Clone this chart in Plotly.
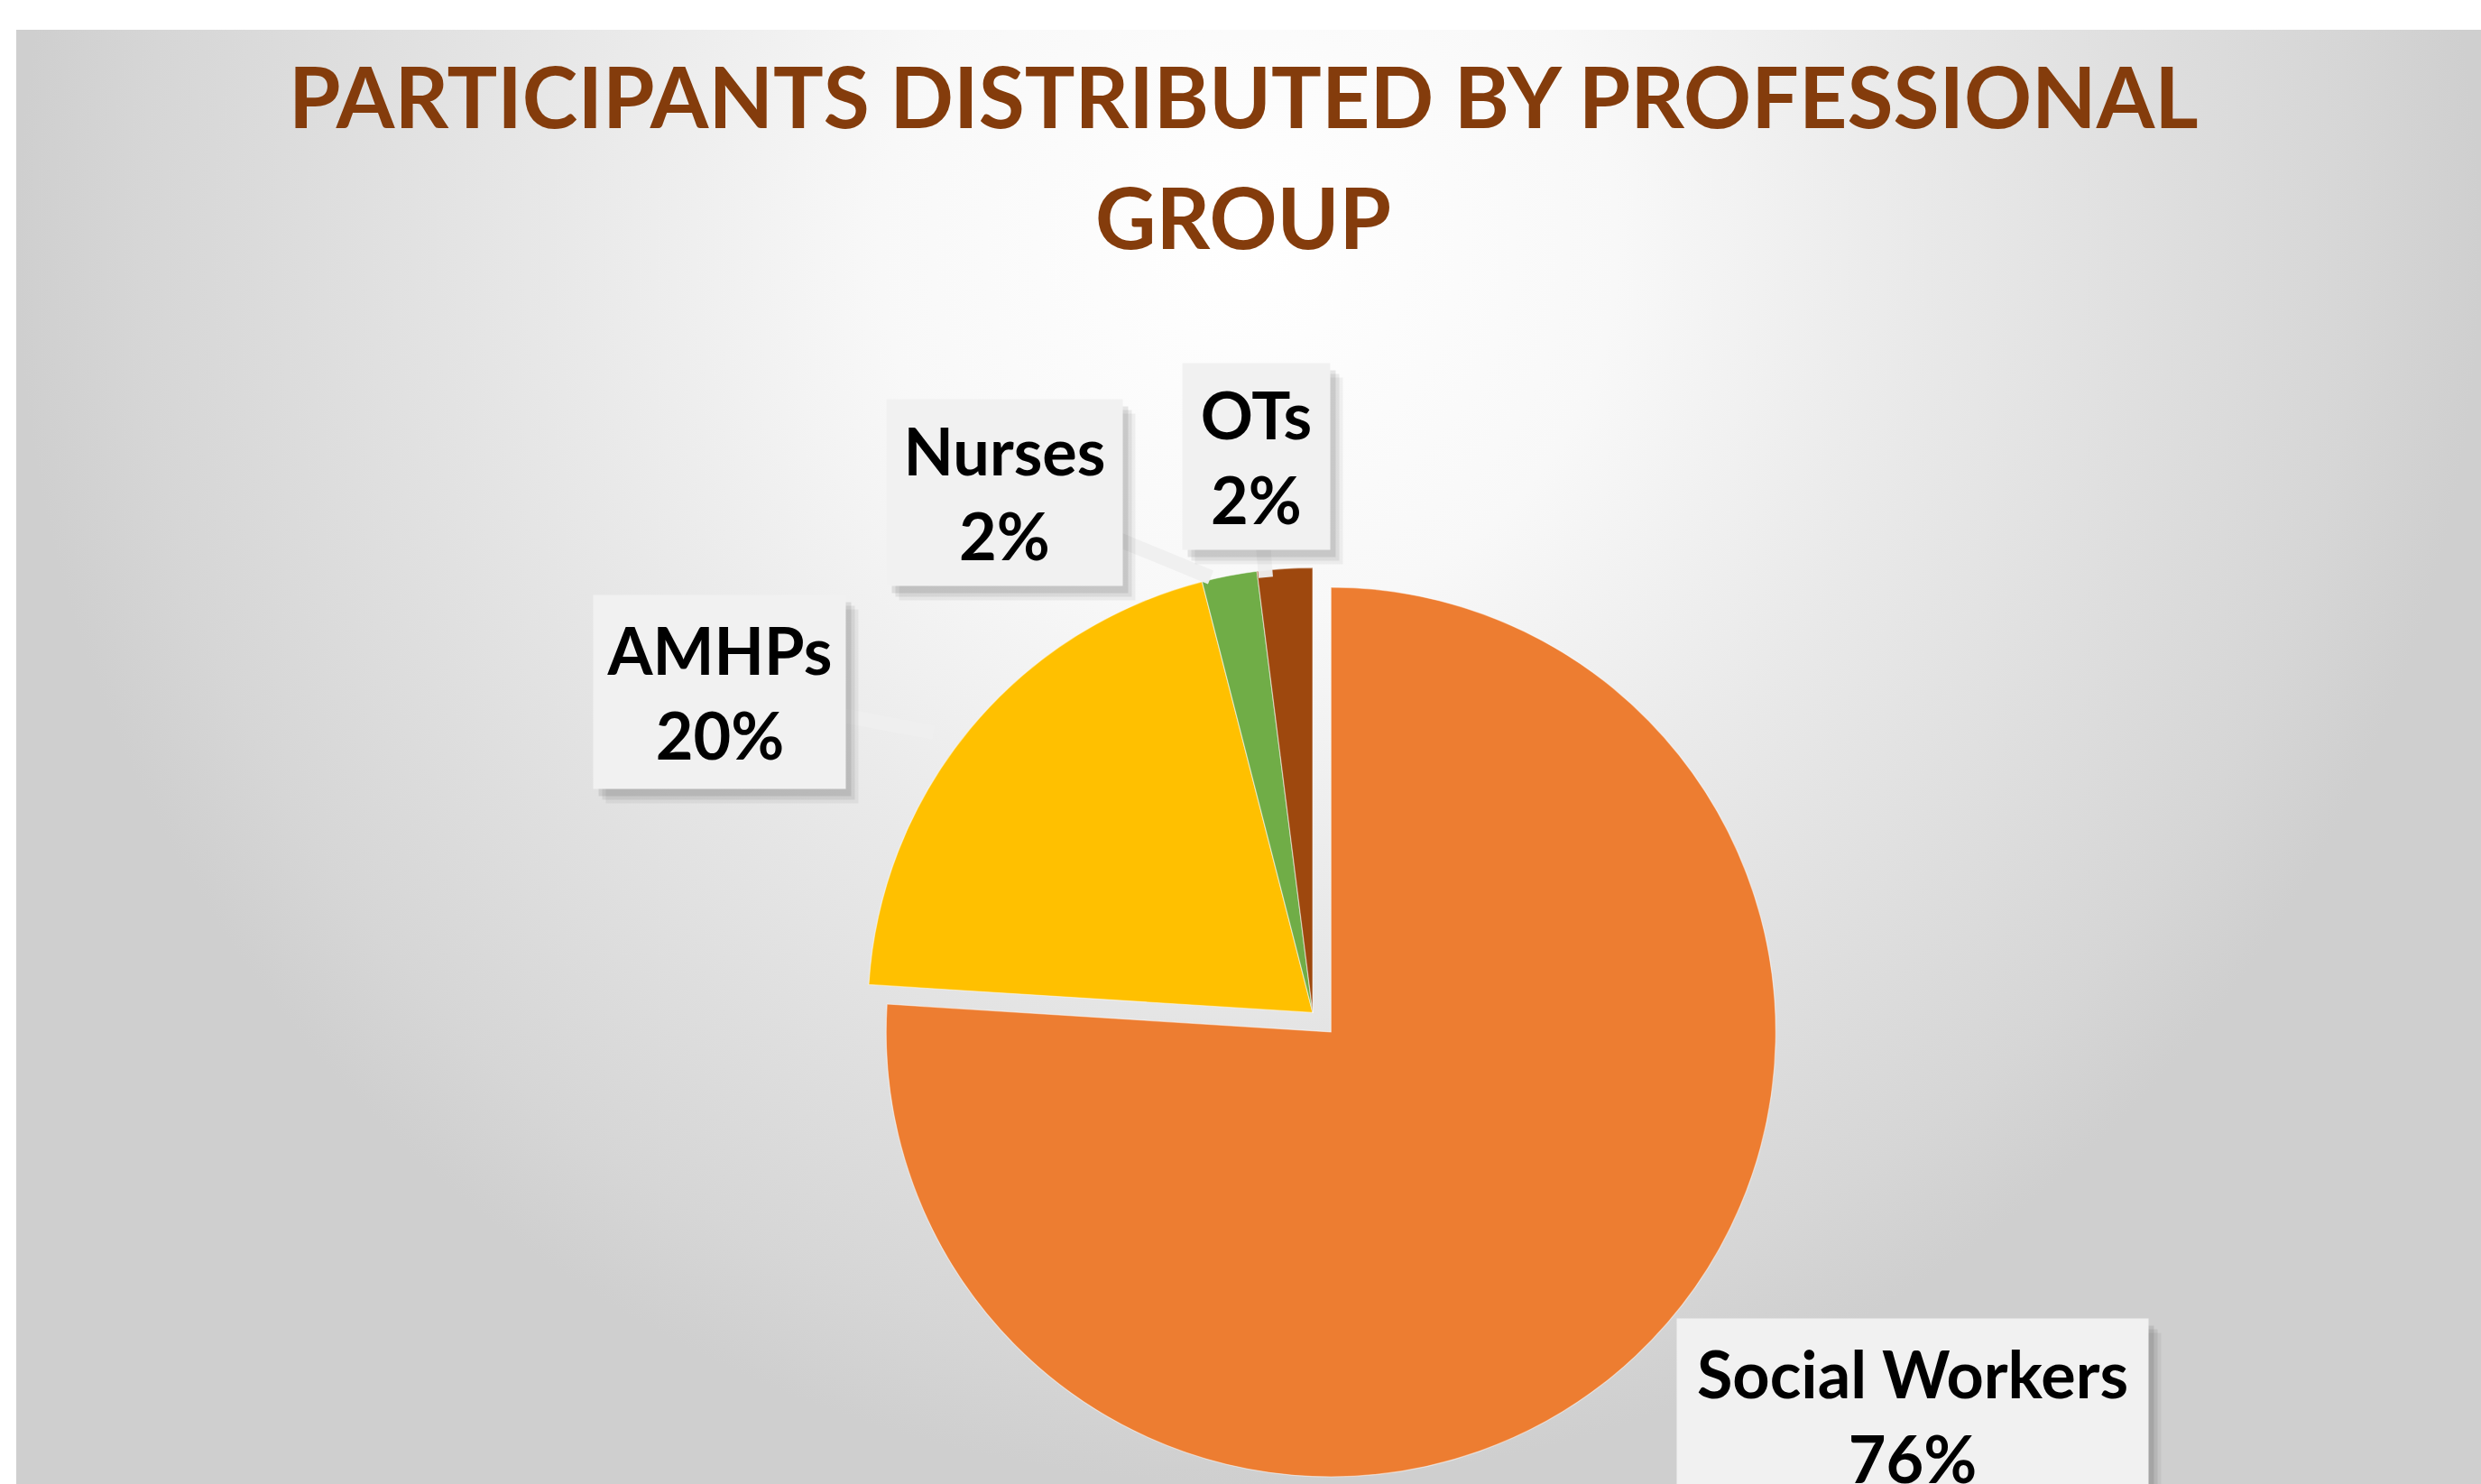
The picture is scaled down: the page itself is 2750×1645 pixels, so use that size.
import plotly.graph_objects as go

# ---------------- data ----------------
categories = ["Social Workers", "AMHPs", "Nurses", "OTs"]
shares = [76, 20, 2, 2]
slice_colors = ["#ED7D31", "#FFC000", "#70AD47", "#9E480E"]
title_lines = ["PARTICIPANTS DISTRIBUTED BY PROFESSIONAL", "GROUP"]

# ---------------- layout helpers (pixel-space positions) ----------------
W, H = 2750, 1645
PANEL_L, PANEL_T = 18, 33          # white strip left / top of the grey panel
# label box centre (x, y), box size (w, h), pointer tip (x, y) or None
label_layout = {
    "Social Workers": dict(c=(2120, 1569), s=(522, 214), tip=None),
    "AMHPs": dict(c=(797, 767), s=(279, 214), tip=(1035, 812)),
    "Nurses": dict(c=(1113, 546), s=(261, 206), tip=(1342, 640)),
    "OTs": dict(c=(1392, 506), s=(163, 206), tip=(1403, 640)),
}

fig = go.Figure()

# gradient background panel
fig.add_trace(go.Scatter(
    x=[PANEL_L, W, W, PANEL_L], y=[-1100, -1100, H, H],
    fill="toself", mode="lines", line=dict(width=0),
    fillgradient=dict(type="radial", colorscale=[
        [0.0, "#ffffff"], [0.3, "#f8f8f8"], [0.55, "#e9e9e9"],
        [0.75, "#dedede"], [0.9, "#d6d6d6"], [1.0, "#cfcfcf"]]),
    hoverinfo="skip", showlegend=False))

# the pie
fig.add_trace(go.Pie(
    labels=categories, values=shares, sort=False,
    direction="clockwise", rotation=0,
    pull=[0.06, 0, 0, 0],
    marker=dict(colors=slice_colors, line=dict(color="rgba(255,255,255,0.5)", width=1.2)),
    textinfo="none", hoverinfo="label+percent",
    domain=dict(x=[0.3291, 0.7291], y=[0, 0.6354]),
    showlegend=False))

annotations = []
# title
title_font = dict(family="Lato", size=93, color="#843C0C")
annotations.append(dict(x=1378, y=106, xref="x", yref="y", text="<b>%s</b>" % title_lines[0],
                        showarrow=False, font=title_font, xanchor="center", yanchor="middle"))
annotations.append(dict(x=1378, y=240, xref="x", yref="y", text="<b>%s</b>" % title_lines[1],
                        showarrow=False, font=title_font, xanchor="center", yanchor="middle"))

label_font = dict(family="Lato", size=72, color="#000000")
for cat, val in zip(categories, shares):
    L = label_layout[cat]
    cx, cy = L["c"]
    bw, bh = L["s"]
    # pointer wedge approximation
    if L["tip"] is not None:
        tx, ty = L["tip"]
        annotations.append(dict(x=tx, y=ty, xref="x", yref="y", ax=cx, ay=cy, axref="x", ayref="y",
                                text="", showarrow=True, arrowhead=0, arrowwidth=16,
                                arrowcolor="rgba(240,240,240,0.95)", standoff=0, startstandoff=0))
    # soft shadow
    for off, a in [((14, 16), 0.05), ((10, 12), 0.07), ((6, 8), 0.09)]:
        annotations.append(dict(x=cx + off[0], y=cy + off[1], xref="x", yref="y", text=" ",
                                showarrow=False, width=bw, height=bh, borderpad=0,
                                bgcolor="rgba(0,0,0,%s)" % a, xanchor="center", yanchor="middle"))
    annotations.append(dict(x=cx, y=cy, xref="x", yref="y",
                            text="<b>%s</b><br><b>%d%%</b>" % (cat, val),
                            showarrow=False, width=bw, height=bh, borderpad=0,
                            bgcolor="#f1f1f1", font=label_font, align="center", valign="middle",
                            xanchor="center", yanchor="middle"))

fig.update_layout(
    width=W, height=H,
    margin=dict(l=0, r=0, t=0, b=0),
    paper_bgcolor="#ffffff", plot_bgcolor="#ffffff",
    xaxis=dict(range=[PANEL_L, W], domain=[PANEL_L / W, 1], visible=False, fixedrange=True),
    yaxis=dict(range=[H, PANEL_T], domain=[0, 1 - PANEL_T / H], visible=False, fixedrange=True),
    annotations=annotations,
)

fig.write_html("out.html", config={"displayModeBar": False},
               post_script="document.body.style.margin='0px';")
